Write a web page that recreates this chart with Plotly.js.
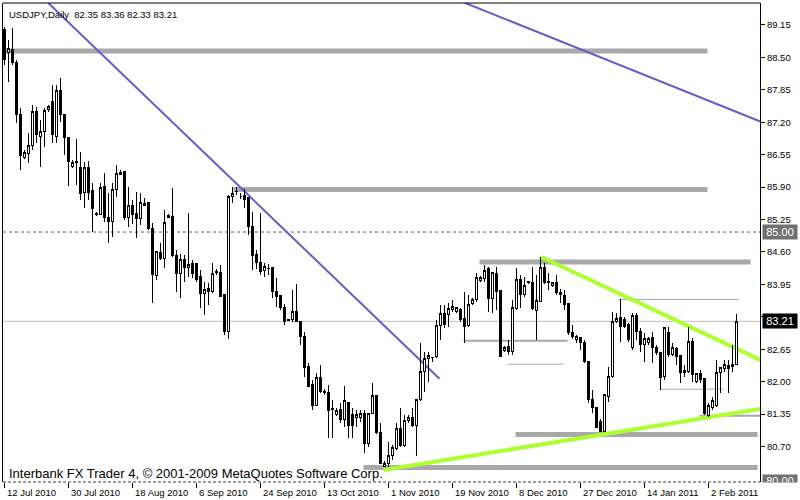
<!DOCTYPE html>
<html><head><meta charset="utf-8">
<script src="https://cdn.plot.ly/plotly-3.0.1.min.js"></script>
<style>html,body{margin:0;padding:0;background:#fff;}#chart{width:800px;height:500px;}
#chart .boxlayer path{shape-rendering:crispEdges;}</style>
</head><body><div id="chart"></div>
<script>
// ---------- data ----------
const symbolTitle = 'USDJPY,Daily';
const lastQuote = ['82.35', '83.36', '82.33', '83.21'];
const copyrightText = 'Interbank FX Trader 4, \u00a9 2001-2009 MetaQuotes Software Corp.';
const dateLabels = ['12 Jul 2010', '30 Jul 2010', '18 Aug 2010', '6 Sep 2010', '24 Sep 2010', '13 Oct 2010',
  '1 Nov 2010', '19 Nov 2010', '8 Dec 2010', '27 Dec 2010', '14 Jan 2011', '2 Feb 2011'];
const barsPerLabel = 16;
const priceTicks = [80.70, 81.35, 82.00, 82.65, 83.30, 83.95, 84.60, 85.25, 85.90, 86.55, 87.20, 87.85, 88.50, 89.15];

const open = [89.05,88.59,88.65,88.39,87.35,86.50,86.58,86.74,87.41,86.91,87.01,87.45,87.61,86.91,87.83,87.35,86.89,86.32,86.40,86.30,
85.80,86.30,85.84,85.37,85.36,85.92,85.30,85.22,85.86,86.16,86.22,85.30,85.54,85.38,85.28,85.58,85.60,85.08,84.12,84.58,
84.46,85.30,85.32,84.52,84.16,84.44,84.28,84.36,84.36,84.10,83.76,83.86,83.80,84.20,84.18,83.74,83.00,85.72,85.81,85.72,
85.74,85.70,85.12,84.54,84.38,84.22,84.26,84.28,83.80,83.72,83.48,83.24,83.24,83.40,83.20,82.90,82.30,81.94,81.53,82.08,
81.81,81.79,81.45,81.35,81.45,81.25,81.59,81.35,81.29,81.28,81.37,80.77,81.37,81.72,80.99,80.31,80.37,80.53,80.67,81.07,
80.73,81.23,81.28,81.13,81.64,82.20,82.46,82.48,82.50,83.12,83.36,83.34,83.44,83.40,83.44,83.26,83.12,83.56,83.64,84.02,
84.06,84.26,83.66,84.16,83.82,82.62,82.70,82.60,83.46,84.04,83.74,84.00,83.98,83.42,83.60,84.28,84.00,83.92,83.98,83.78,
83.72,83.56,82.98,82.84,82.88,82.78,82.40,81.65,81.49,81.21,81.01,81.70,82.10,83.20,83.28,83.24,83.14,82.68,83.32,83.00,
82.74,82.78,82.88,82.68,82.58,82.10,82.98,82.54,82.66,82.52,82.18,82.20,82.80,82.00,82.16,82.06,81.33,81.49,81.53,82.18,
82.26,82.32,82.30,82.35];
const high = [89.11,88.85,89.09,88.45,87.49,86.64,86.99,87.55,87.51,87.25,87.49,87.55,87.95,87.95,88.09,87.35,86.91,86.44,86.86,86.60,
86.40,86.42,85.98,85.40,85.98,86.18,85.78,85.98,86.34,86.24,86.22,85.90,85.64,85.80,85.78,85.68,85.60,85.18,84.60,84.78,
85.44,85.36,85.88,84.64,84.56,84.54,85.38,84.44,84.38,84.24,84.00,83.98,84.38,84.26,84.34,83.74,85.74,85.90,85.90,85.78,
85.86,85.70,85.40,84.64,85.38,84.38,84.36,84.30,84.08,83.74,83.56,83.26,83.84,83.96,83.20,83.00,82.38,82.04,82.18,82.34,
81.86,81.94,81.64,81.47,81.58,81.91,81.59,81.47,81.43,81.43,81.43,81.37,81.98,81.74,81.17,80.42,80.79,80.73,81.17,81.47,
81.33,81.33,81.47,81.64,82.78,82.60,82.60,82.50,83.24,83.54,83.54,83.58,83.64,83.50,83.48,83.80,83.74,83.68,84.18,84.12,
84.34,84.30,84.20,84.30,83.84,82.72,82.84,83.64,84.28,84.14,84.10,84.02,84.30,84.14,84.50,84.38,84.18,84.00,84.14,83.86,
83.84,83.58,83.14,82.94,82.90,82.84,82.40,81.84,81.49,81.25,81.74,82.30,83.40,83.38,83.66,83.30,83.18,83.38,83.38,83.08,
82.98,82.90,83.00,82.74,82.60,83.10,83.10,82.78,82.70,82.54,82.34,83.10,82.88,82.18,82.24,82.08,81.58,81.69,82.44,82.30,
82.44,82.44,82.74,83.36];
const low = [88.35,88.01,88.35,87.19,86.24,86.46,86.38,86.64,86.79,86.30,86.70,87.41,86.79,86.79,87.21,86.54,85.92,86.28,85.94,85.64,
85.48,85.64,85.00,85.32,85.34,85.20,84.78,84.90,85.70,86.14,85.24,85.10,85.16,84.88,85.14,85.53,85.04,83.58,84.04,84.44,
84.28,85.28,84.50,83.80,83.68,84.00,84.10,84.08,84.00,83.48,83.34,83.54,83.78,84.14,83.70,82.94,82.86,85.58,85.74,85.66,
85.48,84.94,84.24,84.26,84.14,84.10,84.14,83.68,83.50,83.44,83.14,83.21,83.20,83.20,82.74,82.10,81.89,81.43,81.53,81.78,
81.74,80.87,80.87,81.31,81.17,81.09,80.87,80.87,81.09,81.19,80.57,80.69,81.35,80.95,80.37,80.29,80.29,80.43,80.63,80.69,
80.69,81.17,81.09,80.51,81.62,81.79,82.00,82.40,82.48,82.84,83.08,83.10,83.40,83.38,83.20,82.78,83.10,83.54,83.60,84.00,
84.00,83.40,83.38,83.44,82.50,82.60,82.54,82.54,83.44,83.48,83.70,83.96,83.44,82.84,83.60,83.96,83.84,83.90,83.74,83.58,
83.44,82.94,82.86,82.78,82.64,82.38,81.58,81.37,81.07,80.99,80.99,81.59,82.08,83.18,82.80,83.08,82.80,82.64,82.84,82.60,
82.40,82.74,82.38,82.54,81.84,82.04,82.50,82.52,82.34,81.98,82.10,82.18,82.00,81.98,81.98,81.33,81.29,81.43,81.49,81.78,
82.20,81.78,82.20,82.33];
const close = [88.45,88.67,88.39,87.35,86.54,86.60,86.74,87.41,86.95,87.01,87.43,87.51,86.95,87.83,87.35,86.89,86.42,86.40,86.41,85.78,
86.30,85.80,85.48,85.36,85.90,85.30,85.22,85.86,86.18,86.20,85.30,85.54,85.36,85.28,85.60,85.54,85.08,84.14,84.60,84.46,
85.20,85.34,84.52,84.16,84.44,84.28,84.34,84.16,84.04,83.76,83.84,83.80,84.16,84.18,83.70,83.00,85.72,85.78,85.82,85.72,
85.66,85.12,84.52,84.38,84.20,84.30,84.27,83.80,83.70,83.48,83.20,83.23,83.40,83.20,82.90,82.28,81.91,81.53,82.08,81.81,
81.78,81.43,81.46,81.43,81.25,81.62,81.13,81.13,81.35,81.37,80.77,81.37,81.72,80.99,80.37,80.37,80.53,80.69,81.07,80.73,
81.23,81.28,81.13,81.64,82.20,82.46,82.52,82.49,83.12,83.36,83.14,83.46,83.50,83.48,83.24,83.10,83.54,83.64,84.08,84.08,
84.22,83.66,84.18,83.80,82.50,82.68,82.60,83.48,84.04,83.74,83.92,83.98,83.46,83.62,84.28,83.98,83.98,83.98,83.78,83.74,
83.54,82.98,82.90,82.90,82.78,82.40,81.65,81.49,81.09,81.01,81.74,82.10,83.20,83.26,83.10,83.10,82.84,83.32,83.00,82.74,
82.86,82.86,82.68,82.58,82.08,83.08,82.54,82.68,82.50,82.18,82.22,82.80,82.14,82.16,82.04,81.37,81.53,81.62,82.18,82.28,
82.34,82.26,82.34,83.21];

// horizontal level objects: price, first bar, last bar
const levelPrice = [88.63, 85.85, 84.40, 83.65, 82.82, 82.35, 81.85, 81.32, 80.94, 80.28];
const levelFrom  = [-1, 57.25, 118.75, 153.5, 114.75, 125.75, 163.75, 173.75, 127.75, 89.75];
const levelTo    = [175.75, 175.75, 186.5, 183.5, 140.75, 139.75, 179.75, 191, 188.25, 188.25];
// trend lines: start bar/price, end bar/price
const trendX0 = [9, 113, 134.25, 94.75];
const trendY0 = [89.74, 89.66, 84.50, 80.23];
const trendX1 = [108.75, 191, 191, 191];
const trendY1 = [82.06, 87.15, 82.36, 81.48];
// price marker lines
const alertLevel = 85.00;
const floorLevel = 80.00;
const bidPrice = 83.21;

// ---------- styles ----------
const levelStyle = [
  {w: 5, c: '#A9A9A9'}, {w: 5, c: '#A9A9A9'}, {w: 5, c: '#A9A9A9'}, {w: 1, c: '#A9A9A9'}, {w: 2, c: '#A9A9A9'},
  {w: 1, c: '#A9A9A9'}, {w: 1, c: '#A9A9A9'}, {w: 2, c: '#A9A9A9'}, {w: 5, c: '#A9A9A9'}, {w: 5, c: '#A9A9A9'}];
const trendStyle = [{w: 2, c: '#6A5ACD'}, {w: 2, c: '#6A5ACD'}, {w: 4, c: '#ADFF2F'}, {w: 4, c: '#ADFF2F'}];
const FONT = 'Liberation Sans, Arial, sans-serif';

const xIdx = open.map((_, i) => i);

const trace = {
  type: 'candlestick', x: xIdx, open: open, high: high, low: low, close: close,
  increasing: {line: {color: '#000000', width: 1}, fillcolor: '#FFFFFF'},
  decreasing: {line: {color: '#000000', width: 1}, fillcolor: '#000000'},
  whiskerwidth: 0, hoverinfo: 'skip', showlegend: false
};

const shapes = [];
levelPrice.forEach((p, i) => {
  shapes.push({type: 'line', xref: 'x', yref: 'y', x0: levelFrom[i], x1: levelTo[i], y0: p, y1: p,
    line: {color: levelStyle[i].c, width: levelStyle[i].w}, layer: 'below'});
});
trendX0.forEach((x0, i) => {
  shapes.push({type: 'line', xref: 'x', yref: 'y', x0: x0, y0: trendY0[i], x1: trendX1[i], y1: trendY1[i],
    line: {color: trendStyle[i].c, width: trendStyle[i].w}, layer: 'below'});
});
shapes.push({type: 'line', xref: 'paper', yref: 'y', x0: 0, x1: 1, y0: bidPrice, y1: bidPrice,
  line: {color: '#C0C0C0', width: 1}, layer: 'below'});
shapes.push({type: 'line', xref: 'paper', yref: 'y', x0: 0, x1: 1, y0: alertLevel, y1: alertLevel,
  line: {color: '#606060', width: 1, dash: '3px,3px'}, layer: 'below'});
shapes.push({type: 'line', xref: 'paper', yref: 'paper', x0: 0, x1: 1, y0: 0, y1: 0,
  line: {color: '#404040', width: 1, dash: '3px,2px'}, layer: 'above'});
shapes.push({type: 'line', xref: 'paper', yref: 'paper', x0: 0, x1: 1, y0: 1, y1: 1,
  line: {color: '#000', width: 1}, layer: 'above'});

const annotations = [];
annotations.push({xref: 'paper', yref: 'paper', x: 0, y: 1, xanchor: 'left', yanchor: 'top', xshift: 4, yshift: -4,
  showarrow: false, text: symbolTitle + '\u00a0\u00a0' + lastQuote.join(' '), font: {family: FONT, size: 9.5, color: '#000'}});
annotations.push({xref: 'paper', yref: 'paper', x: 0, y: 0, xanchor: 'left', yanchor: 'bottom', xshift: 4, yshift: -1,
  showarrow: false, text: copyrightText, font: {family: FONT, size: 13, color: '#000'}});
dateLabels.forEach((d, k) => {
  annotations.push({xref: 'x', yref: 'paper', x: k * barsPerLabel, y: 0, xanchor: 'left', yanchor: 'top',
    xshift: 0, yshift: -3, showarrow: false, text: d, font: {family: FONT, size: 9.5, color: '#000'}});
});
annotations.push({xref: 'paper', yref: 'y', x: 1, y: alertLevel, xanchor: 'left', yanchor: 'middle', xshift: 2,
  showarrow: false, text: alertLevel.toFixed(2), width: 34, height: 14, borderpad: 0, bgcolor: '#707070',
  font: {family: FONT, size: 11, color: '#FFFFFF'}});
annotations.push({xref: 'paper', yref: 'y', x: 1, y: bidPrice, xanchor: 'left', yanchor: 'middle', xshift: 2,
  showarrow: false, text: bidPrice.toFixed(2), width: 34, height: 14, borderpad: 0, bgcolor: '#000000',
  font: {family: FONT, size: 11, color: '#FFFFFF'}});
annotations.push({xref: 'paper', yref: 'paper', x: 1, y: 0, xanchor: 'left', yanchor: 'bottom', xshift: 2, yshift: -1,
  showarrow: false, text: floorLevel.toFixed(2), width: 34, height: 7, valign: 'top', borderpad: 0, bgcolor: '#707070',
  font: {family: FONT, size: 11, color: '#FFFFFF'}});

const layout = {
  width: 800, height: 500,
  margin: {l: 3, r: 40, t: 3, b: 18, pad: 0},
  paper_bgcolor: '#FFFFFF', plot_bgcolor: '#FFFFFF',
  showlegend: false, hovermode: false, dragmode: false,
  boxgap: 0.5, boxgroupgap: 0,
  xaxis: {type: 'linear', range: [-0.375, 188.875], showgrid: false, zeroline: false,
    rangeslider: {visible: false}, showline: false,
    tickmode: 'array', tickvals: dateLabels.map((_, k) => k * barsPerLabel), ticktext: dateLabels.map(() => ''),
    ticks: 'outside', ticklen: 5, tickwidth: 1, tickcolor: '#000', fixedrange: true},
  yaxis: {range: [79.99, 89.59], side: 'right', showgrid: false, zeroline: false,
    showline: true, linecolor: '#000', linewidth: 1, mirror: true,
    tickmode: 'array', tickvals: priceTicks, ticktext: priceTicks.map(v => v.toFixed(2)),
    ticks: 'outside', ticklen: 4, tickwidth: 1, tickcolor: '#000',
    tickfont: {family: FONT, size: 9.5, color: '#000'}, fixedrange: true},
  shapes: shapes,
  annotations: annotations
};

Plotly.newPlot('chart', [trace], layout, {staticPlot: true, displayModeBar: false});
</script>
</body></html>
